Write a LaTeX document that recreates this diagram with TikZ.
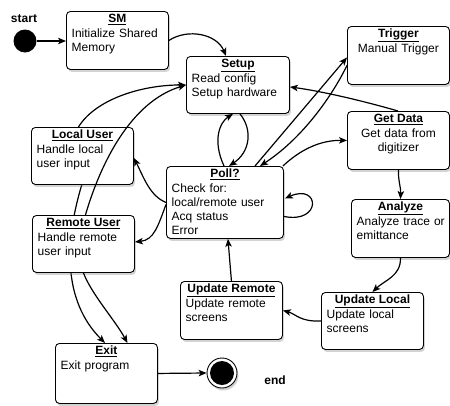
\documentclass[tikz,border=0pt]{standalone}
\usepackage{fontspec}
\setmainfont{Liberation Sans}
\usetikzlibrary{arrows.meta,shadows,calc}
\tikzset{
  statebox/.style={draw=black, line width=0.9pt, fill=white, rounded corners=4pt,
    inner sep=0pt, anchor=north west,
    drop shadow={shadow xshift=1.5pt, shadow yshift=-2.5pt, opacity=0.35}},
  titletext/.style={font=\fontsize{12}{14}\selectfont\bfseries, inner sep=0pt, anchor=base},
  bodyleft/.style={font=\fontsize{12}{14}\selectfont, inner sep=0pt, anchor=base west,
    text width=120pt, align=left},
  bodycenter/.style={font=\fontsize{12}{14}\selectfont, inner sep=0pt, anchor=base,
    text width=100pt, align=center},
  conn/.style={line width=1.2pt, -{Stealth[length=8pt,width=6.5pt,inset=2pt]}},
  plainline/.style={line width=1.2pt},
  lbl/.style={font=\fontsize{12}{14}\selectfont\bfseries, inner sep=0pt},
}
\newcommand{\mkstate}[7]{%
  \node[statebox, minimum width=#4pt, minimum height=#5pt] (#1) at (#2,#3) {};
  \node[titletext] (#1-t) at ($(#1.north)+(0,11.5)$) {\underline{#6}};
  \node[bodyleft] (#1-b) at ($(#1.north west)+(5.5,26)$) {#7};
}
\newcommand{\mkstatec}[7]{%
  \node[statebox, minimum width=#4pt, minimum height=#5pt] (#1) at (#2,#3) {};
  \node[titletext] (#1-t) at ($(#1.north)+(0,11.5)$) {\underline{#6}};
  \node[bodycenter] (#1-b) at ($(#1.north)+(0,26)$) {#7};
}
\begin{document}
\begin{tikzpicture}[x=1pt, y=-1pt]
\useasboundingbox (0,0) rectangle (450,405);

% coordinates for connector hidden behind Remote User
\coordinate (luS) at (82,184);
\coordinate (exN1) at (105,343);
% Local User -> Exit (passes behind Remote User)
\draw[conn] (luS) .. controls (65,240) and (62,300) .. (exN1);

% states
\mkstate{sm}{66}{11}{102}{58}{SM}{Initialize Shared\\Memory}
\mkstate{setup}{186}{56}{103}{57}{Setup}{Read config\\Setup hardware}
\mkstatec{trigger}{347}{26}{102}{58}{Trigger}{Manual Trigger}
\mkstatec{getdata}{347}{111}{102}{58}{Get Data}{Get data from\\digitizer}
\mkstate{lu}{31}{127}{102}{57}{Local User}{Handle local\\user input}
\mkstate{poll}{166}{166}{117}{72}{Poll?}{Check for:\\local/remote user\\Acq status\\Error}
\mkstate{ru}{32}{215}{102}{57}{Remote User}{Handle remote\\user input}
\mkstate{analyze}{351}{199}{98}{58}{Analyze}{Analyze trace or\\emittance}
\mkstate{ur}{180}{281}{102}{58}{Update Remote}{Update remote\\screens}
\mkstate{ul}{321}{292}{102}{57}{Update Local}{Update local\\screens}
\mkstate{exit}{55}{343}{102}{60}{Exit}{Exit program}

% start / end
\node[circle, fill=black, minimum size=23pt, inner sep=0pt] (start) at (25,41) {};
\node[lbl] (startlbl) at (24,19) {start};
\node[circle, draw=black, line width=0.9pt, fill=white, minimum size=30pt, inner sep=0pt,
  drop shadow={shadow xshift=1.5pt, shadow yshift=-2.5pt, opacity=0.35}] (endc) at (222,373) {};
\node[circle, fill=black, minimum size=24pt, inner sep=0pt] (endin) at (endc) {};
\node[lbl] (endlbl) at (275,380) {end};

% connectors
\draw[conn] (start.east) -- (start -| sm.west);
\draw[conn] (sm.east) .. controls (188,28) and (217,34) .. ($(setup.north west)+(40,0)$);
\draw[conn] ($(lu.north)+(-4,0)$) .. controls (95,100) and (140,85) .. (setup.west);
\draw[conn] ($(ru.north)+(2,0)$) .. controls (100,165) and (130,102) .. (setup.west);
\draw[conn] ($(poll.north west)+(58,0)$) .. controls (212,140) and (220,122) .. ($(setup.south west)+(47,0)$);
\draw[conn] ($(setup.south west)+(54,0)$) .. controls (253,130) and (250,152) .. ($(poll.north west)+(63,0)$);
\draw[conn] ($(poll.north west)+(89,0)$) -- ($(trigger.west)+(0,2)$);
\draw[conn] ($(trigger.west)+(0,10)$) .. controls (330,100) and (300,140) .. ($(poll.north west)+(94,0)$);
\draw[conn] ($(getdata.north west)+(51,0)$) .. controls (360,100) and (320,91) .. ($(setup.east)+(0,2)$);
\draw[conn] ($(poll.north east)+(-1,0)$) .. controls (300,150) and (320,140) .. (getdata.west);
\draw[conn] ($(poll.east)+(0,14)$) .. controls (322,224) and (320,183) .. ($(poll.east)+(1,-4)$);
\draw[conn] (getdata.south) .. controls (398,180) and (401,188) .. (analyze.north);
\draw[conn] (analyze.south) .. controls (401,276) and (385,280) .. (ul.north);
\draw[conn] (ul.west) .. controls (300,322) and (296,314) .. (ur.east);
\draw[conn] (ur.north) -- ($(poll.south)+(3,0)$);
\draw[conn] (poll.west) .. controls (150,196) and (144,178) .. ($(lu.east)+(0,2)$);
\draw[conn] ($(poll.west)+(0,2)$) .. controls (158,226) and (154,240) .. ($(ru.east)+(0,-2)$);
\draw[conn] (ru.south) .. controls (92,295) and (115,320) .. ($(exit.north)+(21,0)$);
\draw[conn] (exit.east) -- (endc.west);
\end{tikzpicture}
\end{document}
